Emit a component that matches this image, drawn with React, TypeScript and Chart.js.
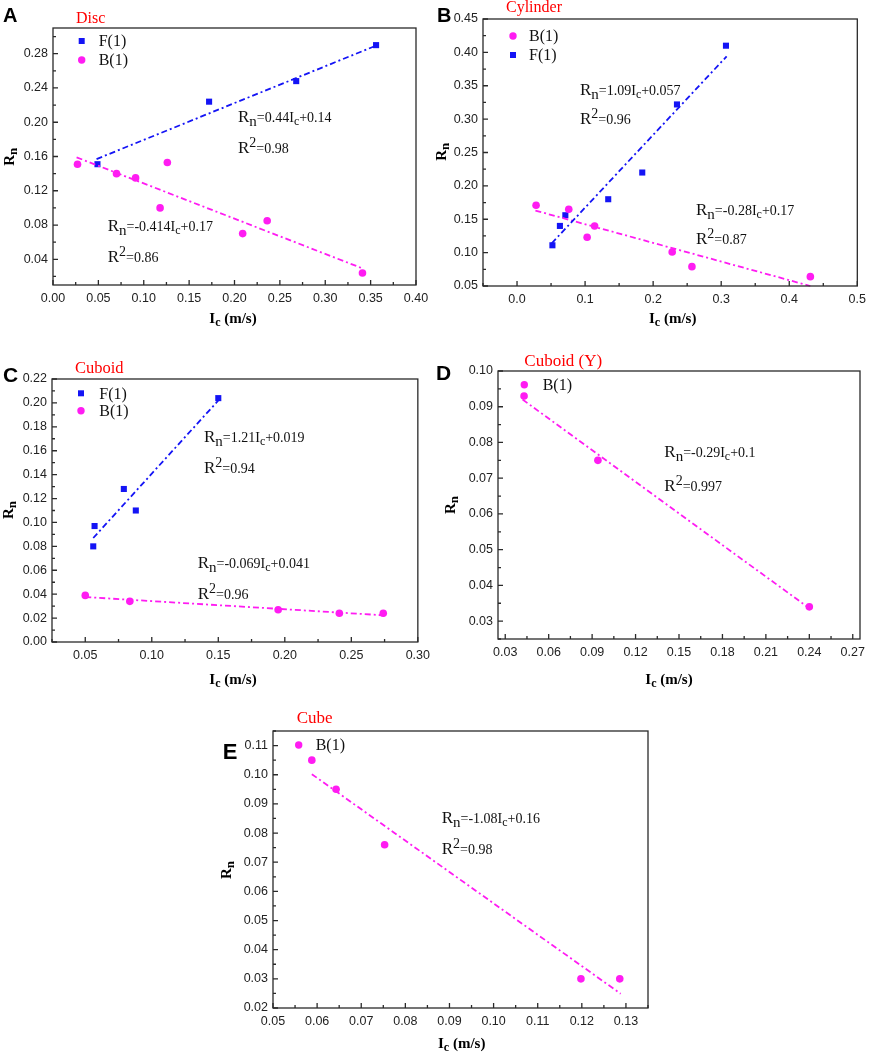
import { useEffect, useRef } from 'react';
import { Chart, registerables } from 'chart.js';

Chart.register(...registerables);

const SERIF = '"Liberation Serif", "Times New Roman", serif';
const SANS = '"Liberation Sans", Arial, sans-serif';
const BLUE = '#1414f5';
const PINK = '#ff1cf2';
const RED = '#ff0000';

// A - Disc
const discFX = [0.049, 0.172, 0.268, 0.356];
const discFY = [0.151, 0.224, 0.248, 0.290];
const discBX = [0.027, 0.070, 0.091, 0.118, 0.126, 0.209, 0.236, 0.341];
const discBY = [0.151, 0.140, 0.135, 0.100, 0.153, 0.070, 0.085, 0.024];
const discFitFX = [0.048, 0.355];
const discFitFY = [0.157, 0.289];
const discFitBX = [0.026, 0.342];
const discFitBY = [0.159, 0.029];
const discXTicks = [0, 0.05, 0.1, 0.15, 0.2, 0.25, 0.3, 0.35, 0.4];
const discYTicks = [0.04, 0.08, 0.12, 0.16, 0.2, 0.24, 0.28];

// B - Cylinder
const cylBX = [0.028, 0.076, 0.103, 0.114, 0.228, 0.257, 0.431];
const cylBY = [0.171, 0.165, 0.123, 0.140, 0.101, 0.079, 0.064];
const cylFX = [0.052, 0.063, 0.071, 0.134, 0.184, 0.235, 0.307];
const cylFY = [0.111, 0.140, 0.156, 0.180, 0.220, 0.322, 0.410];
const cylFitFX = [0.051, 0.308];
const cylFitFY = [0.114, 0.394];
const cylFitBX = [0.027, 0.431];
const cylFitBY = [0.163, 0.050];
const cylXTicks = [0, 0.1, 0.2, 0.3, 0.4, 0.5];
const cylYTicks = [0.05, 0.1, 0.15, 0.2, 0.25, 0.3, 0.35, 0.4, 0.45];

// C - Cuboid
const cubFX = [0.056, 0.057, 0.079, 0.088, 0.150];
const cubFY = [0.080, 0.097, 0.128, 0.110, 0.204];
const cubBX = [0.050, 0.0835, 0.195, 0.241, 0.274];
const cubBY = [0.039, 0.034, 0.027, 0.024, 0.024];
const cubFitFX = [0.056, 0.150];
const cubFitFY = [0.087, 0.202];
const cubFitBX = [0.050, 0.275];
const cubFitBY = [0.0376, 0.0223];
const cubXTicks = [0.05, 0.1, 0.15, 0.2, 0.25, 0.3];
const cubYTicks = [0, 0.02, 0.04, 0.06, 0.08, 0.1, 0.12, 0.14, 0.16, 0.18, 0.2, 0.22];

// D - Cuboid (Y)
const cubYBX = [0.043, 0.094, 0.240];
const cubYBY = [0.093, 0.075, 0.034];
const cubYFitX = [0.042, 0.240];
const cubYFitY = [0.092, 0.0336];
const cubYXTicks = [0.03, 0.06, 0.09, 0.12, 0.15, 0.18, 0.21, 0.24, 0.27];
const cubYYTicks = [0.03, 0.04, 0.05, 0.06, 0.07, 0.08, 0.09, 0.1];

// E - Cube
const cubeBX = [0.0588, 0.0643, 0.0753, 0.1198, 0.1286];
const cubeBY = [0.105, 0.095, 0.076, 0.030, 0.030];
const cubeFitX = [0.0588, 0.1288];
const cubeFitY = [0.1002, 0.0249];
const cubeXTicks = [0.05, 0.06, 0.07, 0.08, 0.09, 0.1, 0.11, 0.12, 0.13];
const cubeYTicks = [0.02, 0.03, 0.04, 0.05, 0.06, 0.07, 0.08, 0.09, 0.1, 0.11];

type Seg = { t: string; size: number; dy?: number; bold?: boolean };

const zip = (xs: number[], ys: number[]) => xs.map((x, i) => ({ x, y: ys[i] }));

const fitLines = (slope: string, icpt: string, r2: string): Seg[][] => [
  [
    { t: 'R', size: 17 },
    { t: 'n', size: 15, dy: 4 },
    { t: '=' + slope + 'I', size: 14 },
    { t: 'c', size: 12, dy: 3 },
    { t: icpt, size: 14 },
  ],
  [
    { t: 'R', size: 17 },
    { t: '2', size: 14, dy: -6 },
    { t: '=' + r2, size: 14 },
  ],
];

const segFont = (s: Seg) => `${s.bold ? 'bold ' : ''}${s.size}px ${SERIF}`;

function drawRich(ctx: CanvasRenderingContext2D, segs: Seg[], x: number, y: number, center = false) {
  let w = 0;
  for (const s of segs) {
    ctx.font = segFont(s);
    w += ctx.measureText(s.t).width;
  }
  let cx = center ? x - w / 2 : x;
  ctx.textAlign = 'left';
  ctx.textBaseline = 'alphabetic';
  for (const s of segs) {
    ctx.font = segFont(s);
    ctx.fillText(s.t, cx, y + (s.dy || 0));
    cx += ctx.measureText(s.t).width;
  }
}

const icTitle: Seg[] = [
  { t: 'I', size: 15, bold: true },
  { t: 'c', size: 12, dy: 3, bold: true },
  { t: ' (m/s)', size: 15, bold: true },
];
const rnTitle: Seg[] = [
  { t: 'R', size: 15, bold: true },
  { t: 'n', size: 13, dy: 3, bold: true },
];

type Series = { label: string; color: string; shape: 'rect' | 'circle'; xs: number[]; ys: number[] };
type Fit = { color: string; xs: number[]; ys: number[] };
type Note = { x: number; y: number; gap: number; lines: Seg[][] };

type PanelSpec = {
  left: number; top: number; width: number; height: number;
  area: [number, number, number, number];
  letter: string; letterSize: number; letterPos: [number, number];
  title: string; titleSize: number; titlePos: [number, number];
  xMin: number; xMax: number; yMin: number; yMax: number;
  xTicks: number[]; yTicks: number[]; xDec: number; yDec: number;
  series: Series[]; fits: Fit[];
  legend: { mx: number; my: number; tx: number; gap: number };
  notes: Note[];
  rnPos: [number, number]; icPos: [number, number];
};

const panels: PanelSpec[] = [
  {
    left: 0, top: 0, width: 436, height: 340, area: [53, 28, 416, 285],
    letter: 'A', letterSize: 20, letterPos: [3, 21.7],
    title: 'Disc', titleSize: 16, titlePos: [76, 22.7],
    xMin: 0, xMax: 0.4, yMin: 0.01, yMax: 0.31, xTicks: discXTicks, yTicks: discYTicks, xDec: 2, yDec: 2,
    series: [
      { label: 'F(1)', color: BLUE, shape: 'rect', xs: discFX, ys: discFY },
      { label: 'B(1)', color: PINK, shape: 'circle', xs: discBX, ys: discBY },
    ],
    fits: [
      { color: BLUE, xs: discFitFX, ys: discFitFY },
      { color: PINK, xs: discFitBX, ys: discFitBY },
    ],
    legend: { mx: 81.7, my: 41, tx: 98.7, gap: 19 },
    notes: [
      { x: 238, y: 121.7, gap: 31, lines: fitLines('0.44', '+0.14', '0.98') },
      { x: 107.7, y: 230.7, gap: 31, lines: fitLines('-0.414', '+0.17', '0.86') },
    ],
    rnPos: [14, 156.7], icPos: [233, 323],
  },
  {
    left: 436, top: 0, width: 436, height: 340, area: [47, 19, 425, 286],
    letter: 'B', letterSize: 20, letterPos: [1, 22],
    title: 'Cylinder', titleSize: 16, titlePos: [70, 12.3],
    xMin: -0.05, xMax: 0.5, yMin: 0.05, yMax: 0.45, xTicks: cylXTicks, yTicks: cylYTicks, xDec: 1, yDec: 2,
    series: [
      { label: 'B(1)', color: PINK, shape: 'circle', xs: cylBX, ys: cylBY },
      { label: 'F(1)', color: BLUE, shape: 'rect', xs: cylFX, ys: cylFY },
    ],
    fits: [
      { color: BLUE, xs: cylFitFX, ys: cylFitFY },
      { color: PINK, xs: cylFitBX, ys: cylFitBY },
    ],
    legend: { mx: 77, my: 36, tx: 93, gap: 19 },
    notes: [
      { x: 144, y: 95, gap: 29, lines: fitLines('1.09', '+0.057', '0.96') },
      { x: 260, y: 215, gap: 29, lines: fitLines('-0.28', '+0.17', '0.87') },
    ],
    rnPos: [9.5, 151.7], icPos: [236.7, 323.3],
  },
  {
    left: 0, top: 340, width: 436, height: 360, area: [52, 39, 425, 302],
    letter: 'C', letterSize: 21, letterPos: [3, 41.7],
    title: 'Cuboid', titleSize: 16.5, titlePos: [75, 33.3],
    xMin: 0.025, xMax: 0.3, yMin: 0, yMax: 0.22, xTicks: cubXTicks, yTicks: cubYTicks, xDec: 2, yDec: 2,
    series: [
      { label: 'F(1)', color: BLUE, shape: 'rect', xs: cubFX, ys: cubFY },
      { label: 'B(1)', color: PINK, shape: 'circle', xs: cubBX, ys: cubBY },
    ],
    fits: [
      { color: BLUE, xs: cubFitFX, ys: cubFitFY },
      { color: PINK, xs: cubFitBX, ys: cubFitBY },
    ],
    legend: { mx: 81, my: 53.3, tx: 99.3, gap: 17.4 },
    notes: [
      { x: 204, y: 101.7, gap: 31, lines: fitLines('1.21', '+0.019', '0.94') },
      { x: 197.7, y: 227.7, gap: 31.6, lines: fitLines('-0.069', '+0.041', '0.96') },
    ],
    rnPos: [12.7, 170], icPos: [233, 344],
  },
  {
    left: 436, top: 340, width: 436, height: 360, area: [62, 31, 424, 299],
    letter: 'D', letterSize: 21, letterPos: [0, 40],
    title: 'Cuboid (Y)', titleSize: 17, titlePos: [88.3, 26],
    xMin: 0.025, xMax: 0.275, yMin: 0.025, yMax: 0.1, xTicks: cubYXTicks, yTicks: cubYYTicks, xDec: 2, yDec: 2,
    series: [{ label: 'B(1)', color: PINK, shape: 'circle', xs: cubYBX, ys: cubYBY }],
    fits: [{ color: PINK, xs: cubYFitX, ys: cubYFitY }],
    legend: { mx: 88.3, my: 44.7, tx: 106.7, gap: 19 },
    notes: [{ x: 228.3, y: 117.3, gap: 33.4, lines: fitLines('-0.29', '+0.1', '0.997') }],
    rnPos: [19.3, 165], icPos: [233, 344],
  },
  {
    left: 200, top: 680, width: 480, height: 374, area: [73, 51, 448, 328],
    letter: 'E', letterSize: 22, letterPos: [22.7, 79.3],
    title: 'Cube', titleSize: 17, titlePos: [96.7, 43.3],
    xMin: 0.05, xMax: 0.135, yMin: 0.02, yMax: 0.115, xTicks: cubeXTicks, yTicks: cubeYTicks, xDec: 2, yDec: 2,
    series: [{ label: 'B(1)', color: PINK, shape: 'circle', xs: cubeBX, ys: cubeBY }],
    fits: [{ color: PINK, xs: cubeFitX, ys: cubeFitY }],
    legend: { mx: 98.7, my: 65, tx: 115.7, gap: 19 },
    notes: [{ x: 241.7, y: 143.3, gap: 31, lines: fitLines('-1.08', '+0.16', '0.98') }],
    rnPos: [30.7, 190], icPos: [261.7, 368.3],
  },
];

const minorTicks = (ticks: number[], min: number, max: number) => {
  const out: number[] = [];
  for (let i = 0; i < ticks.length - 1; i++) out.push((ticks[i] + ticks[i + 1]) / 2);
  const step = ticks[1] - ticks[0];
  const lo = ticks[0] - step / 2;
  const hi = ticks[ticks.length - 1] + step / 2;
  if (lo >= min - 1e-9) out.push(lo);
  if (hi <= max + 1e-9) out.push(hi);
  return out;
};

function drawMarker(ctx: CanvasRenderingContext2D, shape: string, color: string, x: number, y: number) {
  ctx.fillStyle = color;
  if (shape === 'rect') {
    ctx.fillRect(x - 3, y - 3, 6, 6);
  } else {
    ctx.beginPath();
    ctx.arc(x, y, 3.7, 0, Math.PI * 2);
    ctx.fill();
  }
}

const Panel = ({ spec }: { spec: PanelSpec }) => {
  const canvasRef = useRef<HTMLCanvasElement>(null);
  const chartRef = useRef<Chart | null>(null);

  useEffect(() => {
    const canvas = canvasRef.current;
    if (!canvas) return;
    if (chartRef.current) chartRef.current.destroy();

    const [aL, aT, aR, aB] = spec.area;

    const decor = {
      id: 'decor',
      afterDraw(chart: any) {
        const ctx: CanvasRenderingContext2D = chart.ctx;
        const { left, top, right, bottom } = chart.chartArea;
        const xs = chart.scales.x;
        const ys = chart.scales.y;
        ctx.save();
        ctx.strokeStyle = '#2a2a2a';
        ctx.lineWidth = 1.3;
        ctx.strokeRect(left, top, right - left, bottom - top);

        // inward ticks on bottom and left axes
        ctx.beginPath();
        spec.xTicks.forEach((v) => {
          const px = xs.getPixelForValue(v);
          ctx.moveTo(px, bottom);
          ctx.lineTo(px, bottom - 5);
        });
        minorTicks(spec.xTicks, spec.xMin, spec.xMax).forEach((v) => {
          const px = xs.getPixelForValue(v);
          ctx.moveTo(px, bottom);
          ctx.lineTo(px, bottom - 3);
        });
        spec.yTicks.forEach((v) => {
          const py = ys.getPixelForValue(v);
          ctx.moveTo(left, py);
          ctx.lineTo(left + 5, py);
        });
        minorTicks(spec.yTicks, spec.yMin, spec.yMax).forEach((v) => {
          const py = ys.getPixelForValue(v);
          ctx.moveTo(left, py);
          ctx.lineTo(left + 3, py);
        });
        ctx.stroke();

        // panel letter and title
        ctx.fillStyle = '#000';
        ctx.textAlign = 'left';
        ctx.textBaseline = 'alphabetic';
        ctx.font = `bold ${spec.letterSize}px ${SANS}`;
        ctx.fillText(spec.letter, spec.letterPos[0], spec.letterPos[1]);
        ctx.fillStyle = RED;
        ctx.font = `${spec.titleSize}px ${SERIF}`;
        ctx.fillText(spec.title, spec.titlePos[0], spec.titlePos[1]);

        // legend
        spec.series.forEach((s, i) => {
          const y = spec.legend.my + i * spec.legend.gap;
          drawMarker(ctx, s.shape, s.color, spec.legend.mx, y);
          ctx.fillStyle = '#111';
          ctx.font = `16px ${SERIF}`;
          ctx.textAlign = 'left';
          ctx.textBaseline = 'middle';
          ctx.fillText(s.label, spec.legend.tx, y + 1);
        });

        // fit equations
        ctx.fillStyle = '#111';
        spec.notes.forEach((n) => {
          n.lines.forEach((line, i) => drawRich(ctx, line, n.x, n.y + i * n.gap));
        });

        // axis titles
        ctx.fillStyle = '#000';
        drawRich(ctx, icTitle, spec.icPos[0], spec.icPos[1], true);
        ctx.translate(spec.rnPos[0], spec.rnPos[1]);
        ctx.rotate(-Math.PI / 2);
        drawRich(ctx, rnTitle, 0, 0, true);
        ctx.restore();
      },
    };

    const datasets: any[] = [
      ...spec.fits.map((f) => ({
        data: zip(f.xs, f.ys),
        showLine: true,
        borderColor: f.color,
        borderWidth: 1.8,
        borderDash: [6, 3, 2, 3],
        pointRadius: 0,
        fill: false,
        clip: false,
      })),
      ...spec.series.map((s) => ({
        label: s.label,
        data: zip(s.xs, s.ys),
        showLine: false,
        pointStyle: s.shape,
        pointRadius: s.shape === 'rect' ? 4.3 : 3.8,
        backgroundColor: s.color,
        borderWidth: 0,
        clip: false,
      })),
    ];

    const tickFont = { size: 12.5, family: SANS };

    chartRef.current = new Chart(canvas, {
      type: 'scatter',
      data: { datasets },
      options: {
        animation: false,
        responsive: false,
        events: [],
        layout: { padding: { left: 0, top: aT, right: spec.width - aR, bottom: 0 } },
        plugins: { legend: { display: false }, tooltip: { enabled: false } },
        scales: {
          x: {
            type: 'linear',
            min: spec.xMin,
            max: spec.xMax,
            grid: { display: false, drawTicks: false },
            border: { display: false },
            afterBuildTicks: (s: any) => {
              s.ticks = spec.xTicks.map((v) => ({ value: v }));
            },
            afterFit: (s: any) => {
              s.height = spec.height - aB;
            },
            ticks: {
              padding: 6,
              color: '#222',
              font: tickFont,
              maxRotation: 0,
              autoSkip: false,
              callback: (v: any) => Number(v).toFixed(spec.xDec),
            },
          },
          y: {
            type: 'linear',
            min: spec.yMin,
            max: spec.yMax,
            grid: { display: false, drawTicks: false },
            border: { display: false },
            afterBuildTicks: (s: any) => {
              s.ticks = spec.yTicks.map((v) => ({ value: v }));
            },
            afterFit: (s: any) => {
              s.width = aL;
            },
            ticks: {
              padding: 5,
              color: '#222',
              font: tickFont,
              autoSkip: false,
              callback: (v: any) => Number(v).toFixed(spec.yDec),
            },
          },
        },
      } as any,
      plugins: [decor],
    });

    return () => {
      if (chartRef.current) {
        chartRef.current.destroy();
        chartRef.current = null;
      }
    };
  }, [spec]);

  return (
    <canvas
      ref={canvasRef}
      width={spec.width}
      height={spec.height}
      style={{ position: 'absolute', left: spec.left, top: spec.top, width: spec.width, height: spec.height }}
    />
  );
};

export default function App() {
  return (
    <div style={{ position: 'absolute', left: 0, top: 0, width: 872, height: 1054, background: '#fff', overflow: 'hidden' }}>
      {panels.map((p) => (
        <Panel key={p.letter} spec={p} />
      ))}
    </div>
  );
}
